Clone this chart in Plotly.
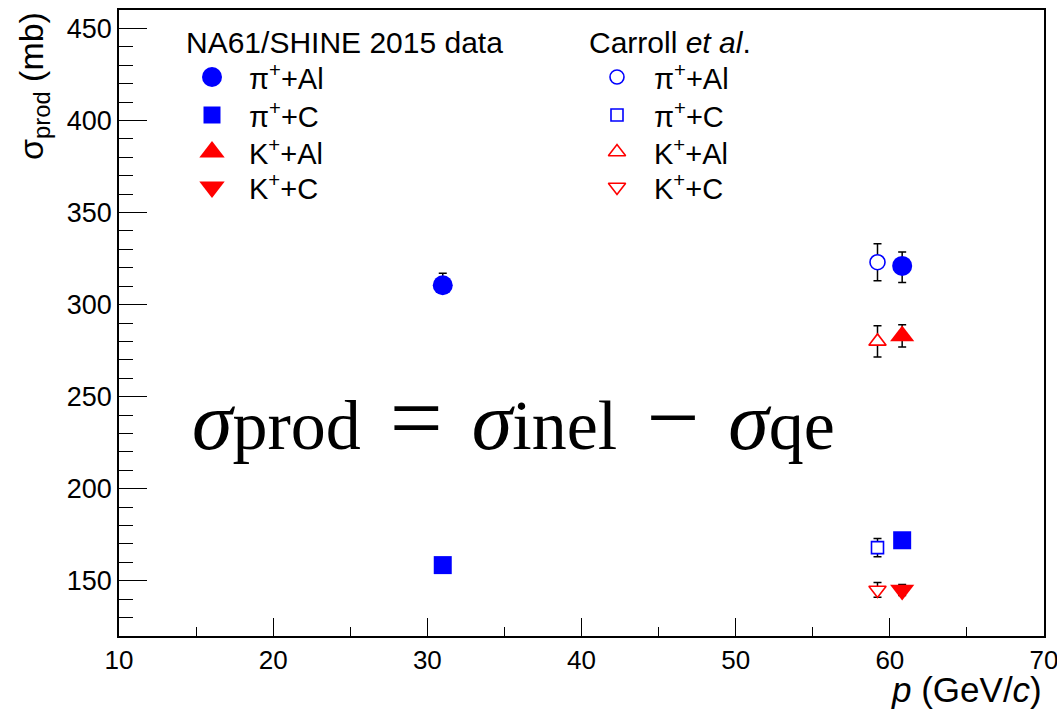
import plotly.graph_objects as go

# ---------------- data ----------------
# NA61/SHINE 2015 data
p_na61_pi = [31.0, 60.8]
sig_na61_pi_al = [310.5, 321.0]
err_na61_pi_al_up = [6.5, 7.5]
err_na61_pi_al_dn = [4.0, 9.0]
sig_na61_pi_c = [158.5, 172.0]
err_na61_pi_c = [3.0, 3.0]

p_na61_k = [60.8]
sig_na61_k_al = [283.0]
err_na61_k_al = [6.0]
sig_na61_k_c = [145.0]
err_na61_k_c = [3.0]

# Carroll et al.
p_carroll = [59.2]
sig_car_pi_al = [323.0]
err_car_pi_al = [10.0]
sig_car_pi_c = [168.0]
err_car_pi_c = [5.0]
sig_car_k_al = [280.0]
err_car_k_al = [8.5]
sig_car_k_c = [145.0]
err_car_k_c = [4.0]

x_ticks = [10, 20, 30, 40, 50, 60, 70]
y_ticks = [150, 200, 250, 300, 350, 400, 450]

BLUE = "#0000ff"
RED = "#ff0000"
SANS = "Liberation Sans, Arial, Helvetica, sans-serif"
SERIF = "Liberation Serif, Times New Roman, serif"

# plot frame in pixels
W, H = 1057, 712
L, R, T, B = 119, 1044, 10, 636


def px2paper(x, y):
    return (x - L) / (R - L), (B - y) / (B - T)


fig = go.Figure()


def add_series(x, y, up, dn, symbol, size, color, hollow):
    if hollow:
        marker = dict(symbol=symbol, size=size, color="white",
                      line=dict(color=color, width=1.6))
    else:
        marker = dict(symbol=symbol, size=size, color=color,
                      line=dict(color=color, width=0))
    fig.add_trace(go.Scatter(
        x=x, y=y, mode="markers", marker=marker, showlegend=False,
        error_y=dict(type="data", symmetric=False, array=up, arrayminus=dn,
                     color="black", thickness=1.5, width=4),
        cliponaxis=False))


# NA61 filled
add_series(p_na61_pi, sig_na61_pi_al, err_na61_pi_al_up, err_na61_pi_al_dn,
           "circle", 20, BLUE, False)
add_series(p_na61_pi, sig_na61_pi_c, err_na61_pi_c, err_na61_pi_c,
           "square", 18, BLUE, False)
add_series(p_na61_k, sig_na61_k_al, err_na61_k_al, err_na61_k_al,
           "triangle-up", 21, RED, False)
add_series(p_na61_k, sig_na61_k_c, err_na61_k_c, err_na61_k_c,
           "triangle-down", 21, RED, False)
# Carroll open
add_series(p_carroll, sig_car_pi_al, err_car_pi_al, err_car_pi_al,
           "circle", 15, BLUE, True)
add_series(p_carroll, sig_car_pi_c, err_car_pi_c, err_car_pi_c,
           "square", 12, BLUE, True)
add_series(p_carroll, sig_car_k_al, err_car_k_al, err_car_k_al,
           "triangle-up", 15, RED, True)
add_series(p_carroll, sig_car_k_c, err_car_k_c, err_car_k_c,
           "triangle-down", 15, RED, True)

# ---------------- legend (manual, two columns) ----------------
leg_labels = ["π<sup>+</sup>+Al", "π<sup>+</sup>+C",
              "K<sup>+</sup>+Al", "K<sup>+</sup>+C"]
leg_symbols = ["circle", "square", "triangle-up", "triangle-down"]
leg_colors = [BLUE, BLUE, RED, RED]
leg_sizes_filled = [20, 17, 22, 22]
leg_sizes_open = [14, 12, 15, 15]
leg_rows_px = [77, 115, 152, 187]
leg_cols = [dict(head="NA61/SHINE 2015 data", head_x=184, sym_x=212, txt_x=247,
                 sizes=leg_sizes_filled, hollow=False),
            dict(head="Carroll <i>et al</i>.", head_x=587, sym_x=617, txt_x=652,
                 sizes=leg_sizes_open, hollow=True)]
head_y = 42

annotations = []
for col in leg_cols:
    hx, hy = px2paper(col["head_x"], head_y)
    annotations.append(dict(xref="paper", yref="paper", x=hx, y=hy,
                            text=col["head"], showarrow=False,
                            xanchor="left", yanchor="middle",
                            font=dict(family=SANS, size=30, color="black")))
    for lab, sym, c, s, ry in zip(leg_labels, leg_symbols, leg_colors,
                                  col["sizes"], leg_rows_px):
        tx, ty = px2paper(col["txt_x"], ry)
        annotations.append(dict(xref="paper", yref="paper", x=tx, y=ty,
                                text=lab, showarrow=False,
                                xanchor="left", yanchor="middle",
                                font=dict(family=SANS, size=29, color="black")))
        if col["hollow"]:
            mk = dict(symbol=sym, size=s, color="white", line=dict(color=c, width=1.6))
        else:
            mk = dict(symbol=sym, size=s, color=c, line=dict(color=c, width=0))
        fig.add_trace(go.Scatter(x=[col["sym_x"]], y=[ry], xaxis="x2", yaxis="y2",
                                 mode="markers", marker=mk, showlegend=False,
                                 hoverinfo="skip", cliponaxis=False))

# formula
SUB = '<span style="font-size:70px">%s</span>'
SP = '<span style="font-size:116px">&nbsp;</span>'
OP = '<span style="font-size:94px">%s</span>'
formula = ("<i>σ</i>" + SUB % "prod" + SP + OP % "=" + SP + "<i>σ</i>" + SUB % "inel"
           + SP + OP % "−" + SP + "<i>σ</i>" + SUB % "qe")
fx, fy = px2paper(190, 410)
annotations.append(dict(xref="paper", yref="paper", x=fx, y=fy,
                        text=formula,
                        showarrow=False, xanchor="left", yanchor="middle",
                        font=dict(family=SERIF, size=82, color="black")))

# axis titles
ytx, yty = px2paper(33, 10)
annotations.append(dict(xref="paper", yref="paper", x=ytx, y=yty,
                        text="σ<sub>prod</sub> (mb)", textangle=-90,
                        showarrow=False, xanchor="center", yanchor="top",
                        font=dict(family=SANS, size=34, color="black")))
xtx, xty = px2paper(1044, 690)
annotations.append(dict(xref="paper", yref="paper", x=xtx, y=xty,
                        text="<i>p</i> (GeV/<i>c</i>)",
                        showarrow=False, xanchor="right", yanchor="middle",
                        font=dict(family=SANS, size=35, color="black")))

fig.update_layout(
    width=W, height=H, autosize=False,
    margin=dict(l=L, r=W - R, t=T, b=H - B, pad=0, autoexpand=False),
    paper_bgcolor="white", plot_bgcolor="white",
    annotations=annotations,
    xaxis=dict(range=[10, 70], tickvals=x_ticks, ticktext=[str(v) for v in x_ticks],
               ticks="inside", ticklen=18, tickwidth=1.3, tickcolor="black",
               minor=dict(dtick=5, tick0=10, ticks="inside", ticklen=9,
                          tickwidth=1.3, tickcolor="black", showgrid=False),
               showgrid=False, zeroline=False, showline=True, linecolor="black",
               linewidth=1.5, mirror=True, ticklabeloverflow="allow",
               automargin=False,
               tickfont=dict(family=SANS, size=26, color="black")),
    yaxis=dict(range=[120, 460], tickvals=y_ticks, ticktext=[str(v) for v in y_ticks],
               ticks="inside", ticklen=28, tickwidth=1.3, tickcolor="black",
               minor=dict(dtick=10, tick0=120, ticks="inside", ticklen=14,
                          tickwidth=1.3, tickcolor="black", showgrid=False),
               showgrid=False, zeroline=False, showline=True, linecolor="black",
               linewidth=1.5, mirror=True, automargin=False,
               tickfont=dict(family=SANS, size=27, color="black")),
    xaxis2=dict(overlaying="x", range=[L, R], visible=False, fixedrange=True),
    yaxis2=dict(overlaying="y", range=[B, T], visible=False, fixedrange=True),
    showlegend=False,
)

fig.write_html("out.html")
